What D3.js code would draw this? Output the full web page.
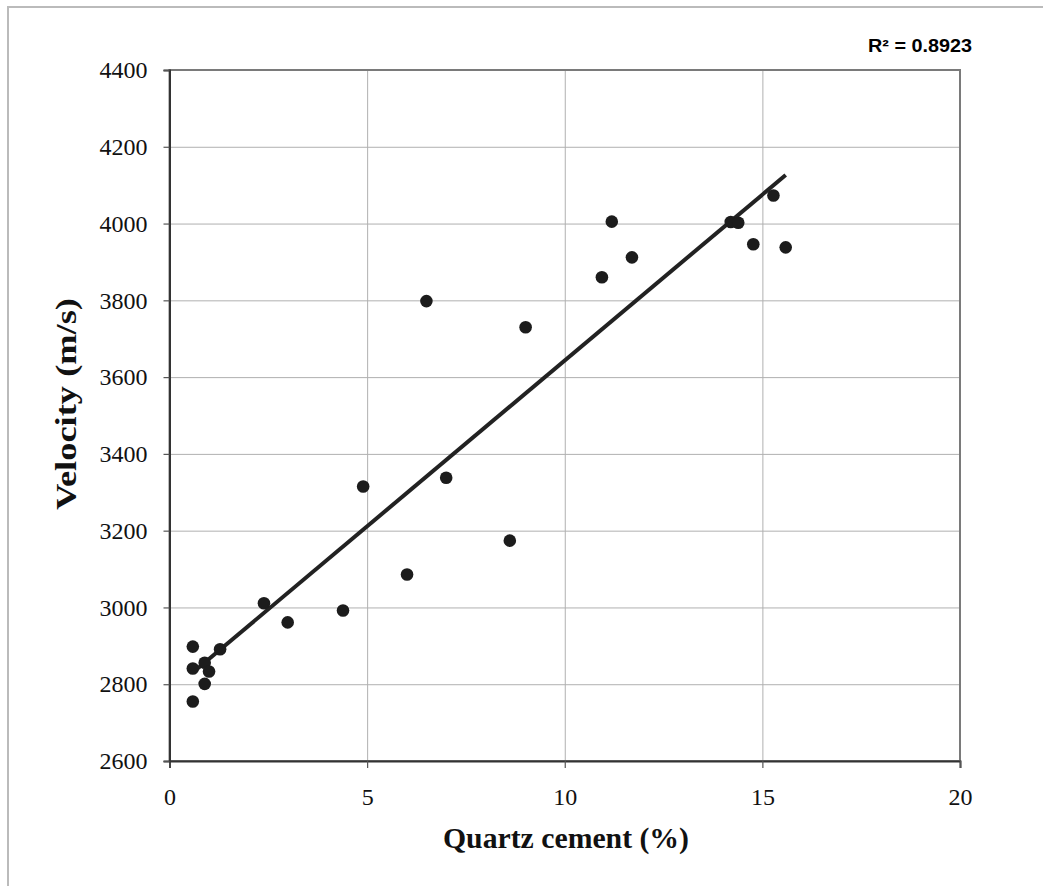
<!doctype html>
<html lang="en">

<head>
    <meta charset="utf-8">
    <title>Velocity vs quartz cement</title>
    <style>
        body {
            margin: 0;
            background: #fff;
        }

        .grid line {
            stroke: #b0b0b0;
            stroke-width: 1;
        }

        .tick text {
            font-family: "Liberation Serif", "Times New Roman", serif;
            font-size: 24px;
            fill: #111;
        }

        .title {
            font-family: "Liberation Serif", "Times New Roman", serif;
            font-weight: bold;
            fill: #111;
        }
    </style>
</head>

<body>
    <div id="chart"></div>

    <script src="https://cdn.jsdelivr.net/npm/d3@7"></script>

    <script>
        // quartz cement (%) and velocity (m/s)
        var cement = [0.59, 0.59, 0.59, 0.89, 1.0, 0.89, 1.28, 2.39, 2.99, 4.39, 4.9, 6.01,
            6.5, 7.0, 8.61, 9.01, 10.94, 11.19, 11.7, 14.2, 14.39, 14.77, 15.28, 15.59];
        var velocity = [2898, 2841, 2755, 2856, 2833, 2801, 2891, 3011, 2961, 2992, 3315, 3086,
            3798, 3338, 3174, 3730, 3860, 4005, 3912, 4004, 4002, 3946, 4073, 3938];
        var xTicks = [0, 5, 10, 15, 20];
        var yTicks = [2600, 2800, 3000, 3200, 3400, 3600, 3800, 4000, 4200, 4400];
        var rSquared = "R² = 0.8923";

        (function () {
            var width = 1043;
            var height = 886;
            var left = 169.5, right = 960, top = 70, bottom = 761;

            var svg = d3.select("#chart")
                .append("svg")
                .attr("width", width)
                .attr("height", height);

            // outer frame
            svg.append("rect")
                .attr("x", 8).attr("y", 7)
                .attr("width", width).attr("height", height)
                .style("fill", "#fff").style("stroke", "#bbb").style("stroke-width", 2);

            var x = d3.scaleLinear().domain([0, 20]).range([left, right]);
            var y = d3.scaleLinear().domain([2600, 4400]).range([bottom, top]);

            // gridlines
            svg.append("g").attr("class", "grid")
                .attr("transform", "translate(0," + bottom + ")")
                .call(d3.axisBottom(x).tickValues(xTicks).tickSize(-(bottom - top)).tickFormat(""))
                .call(function (g) { g.select(".domain").remove(); });
            svg.append("g").attr("class", "grid")
                .attr("transform", "translate(" + left + ",0)")
                .call(d3.axisLeft(y).tickValues(yTicks).tickSize(-(right - left)).tickFormat(""))
                .call(function (g) { g.select(".domain").remove(); });

            // plot border
            svg.append("rect")
                .attr("x", left).attr("y", top)
                .attr("width", right - left).attr("height", bottom - top)
                .style("fill", "none").style("stroke", "#7a7a7a").style("stroke-width", 2);

            // axes
            var xAxis = svg.append("g")
                .attr("transform", "translate(0," + bottom + ")")
                .call(d3.axisBottom(x).tickValues(xTicks).tickFormat(d3.format("d")).tickSize(7).tickPadding(20));
            var yAxis = svg.append("g")
                .attr("transform", "translate(" + left + ",0)")
                .call(d3.axisLeft(y).tickValues(yTicks).tickFormat(d3.format("d")).tickSize(6).tickPadding(16));
            [xAxis, yAxis].forEach(function (a) {
                a.select(".domain").style("stroke", "#333").style("stroke-width", 2);
                a.selectAll(".tick line").style("stroke", "#555").style("stroke-width", 1.2);
            });
            xAxis.selectAll(".tick text").attr("dy", "0.71em");

            // least-squares trend line
            var mx = d3.mean(cement), my = d3.mean(velocity);
            var sxy = d3.sum(cement, function (v, i) { return (v - mx) * (velocity[i] - my); });
            var sxx = d3.sum(cement, function (v) { return (v - mx) * (v - mx); });
            var slope = sxy / sxx, icpt = my - slope * mx;
            var ext = d3.extent(cement);
            svg.append("line")
                .attr("x1", x(ext[0])).attr("y1", y(icpt + slope * ext[0]))
                .attr("x2", x(ext[1])).attr("y2", y(icpt + slope * ext[1]))
                .style("stroke", "#222").style("stroke-width", 4);

            // points
            svg.append("g").selectAll("circle")
                .data(cement)
                .enter()
                .append("circle")
                .attr("cx", function (d) { return x(d); })
                .attr("cy", function (d, i) { return y(velocity[i]); })
                .attr("r", 6.3)
                .style("fill", "#1c1c1c");

            // titles
            svg.append("text").attr("class", "title")
                .attr("x", 566).attr("y", 848)
                .attr("text-anchor", "middle")
                .attr("textLength", 246).attr("lengthAdjust", "spacingAndGlyphs")
                .style("font-size", "30px")
                .text("Quartz cement (%)");
            svg.append("text").attr("class", "title")
                .attr("transform", "translate(76,404) rotate(-90)")
                .attr("text-anchor", "middle")
                .attr("textLength", 212).attr("lengthAdjust", "spacingAndGlyphs")
                .style("font-size", "30px")
                .text("Velocity (m/s)");

            svg.append("text")
                .attr("x", 972).attr("y", 52)
                .attr("text-anchor", "end")
                .attr("textLength", 104).attr("lengthAdjust", "spacingAndGlyphs")
                .style("font-family", "'Liberation Sans', Arial, sans-serif")
                .style("font-weight", "bold").style("font-size", "18px")
                .text(rSquared);
        })();
    </script>
</body>

</html>
